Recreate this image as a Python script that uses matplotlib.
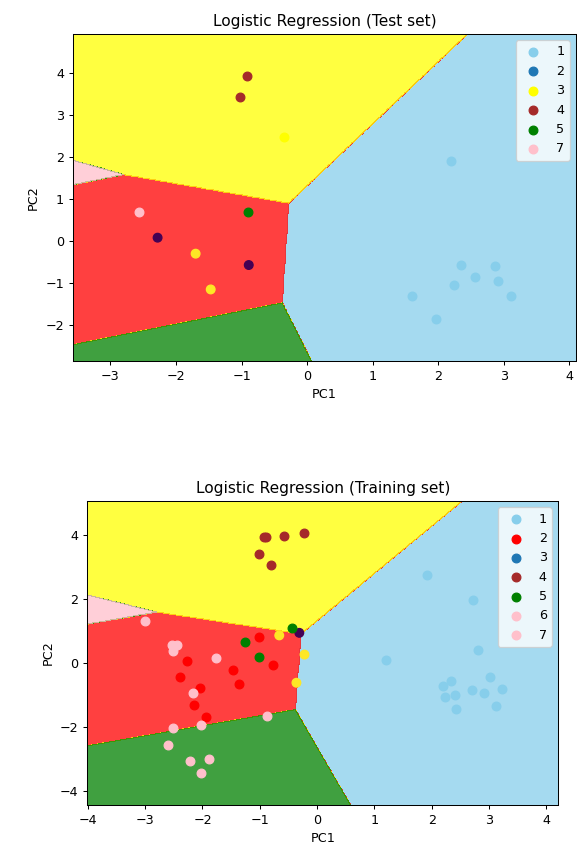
import matplotlib
matplotlib.use('Agg')
import matplotlib.pyplot as plt
import numpy as np
from matplotlib.colors import ListedColormap

# decision regions: linear scores a*PC1 + b*PC2 + c, the region takes the argmax
region_colors = ['skyblue', 'red', 'yellow', 'green', 'pink']
region_a = [1.86, 0.0, 0.27, 0.192, -0.070]
region_b = [-0.078, 0.0, 1.0, -0.616, 0.227]
region_c = [0.591, 0.0, -0.824, -0.832, -0.554]

purple = '#440154'
gold = '#fde725'

# test set, one entry per class
test_labels = ['1', '2', '3', '4', '5', '7']
test_legend_colors = ['skyblue', '#1f77b4', 'yellow', 'brown', 'green', 'pink']
test_x = [
    [2.20, 2.34, 2.86, 2.56, 2.91, 2.24, 1.60, 3.11, 1.96],
    [-2.28, -1.70, -0.89, -1.47],
    [-0.35],
    [-0.92, -1.02],
    [-0.90],
    [-2.57],
]
test_y = [
    [1.90, -0.57, -0.60, -0.85, -0.96, -1.05, -1.31, -1.31, -1.85],
    [0.08, -0.30, -0.57, -1.15],
    [2.47],
    [3.93, 3.43],
    [0.69],
    [0.69],
]
test_point_colors = [None, [purple, gold, purple, gold], None, None, None, None]

# training set
train_labels = ['1', '2', '3', '4', '5', '6', '7']
train_legend_colors = ['skyblue', 'red', '#1f77b4', 'brown', 'green', 'pink', 'pink']
train_x = [
    [1.91, 2.72, 2.80, 1.20, 3.02, 2.33, 2.19, 3.22, 2.70, 2.92, 2.23, 2.41, 3.12, 2.43],
    [-1.01, -2.27, -0.77, -1.46, -2.40, -1.36, -2.05, -2.15, -1.94],
    [-0.31, -0.66, -0.22, -0.36],
    [-0.93, -0.90, -0.57, -0.23, -1.01, -0.81],
    [-0.44, -1.26, -1.01],
    [-3.01, -2.53, -2.44, -2.52, -1.77, -2.17],
    [-0.87, -2.52, -2.02, -2.61, -2.22, -1.88, -2.02],
]
train_y = [
    [2.75, 1.96, 0.40, 0.09, -0.44, -0.56, -0.74, -0.82, -0.86, -0.96, -1.08, -1.00, -1.35, -1.44],
    [0.79, 0.05, -0.08, -0.22, -0.44, -0.66, -0.78, -1.31, -1.70],
    [0.93, 0.85, 0.25, -0.63],
    [3.92, 3.91, 3.96, 4.06, 3.40, 3.04],
    [1.08, 0.63, 0.18],
    [1.30, 0.55, 0.55, 0.35, 0.13, -0.96],
    [-1.66, -2.05, -1.96, -2.57, -3.06, -3.01, -3.45],
]
train_point_colors = [None, None, [purple, gold, gold, gold], None, None, None, None]


def plot_set(ax, xs, ys, labels, legend_colors, point_colors, title):
    all_x = np.concatenate([np.array(v) for v in xs])
    all_y = np.concatenate([np.array(v) for v in ys])
    X1, X2 = np.meshgrid(np.arange(all_x.min() - 1, all_x.max() + 1, 0.01),
                         np.arange(all_y.min() - 1, all_y.max() + 1, 0.01))
    scores = np.array([a * X1 + b * X2 + c for a, b, c in zip(region_a, region_b, region_c)])
    Z = scores.argmax(axis=0)
    ax.contourf(X1, X2, Z, levels=np.arange(-0.5, len(region_colors)), alpha=0.75,
                cmap=ListedColormap(region_colors))
    ax.set_xlim(X1.min(), X1.max())
    ax.set_ylim(X2.min(), X2.max())
    for i in range(len(labels)):
        c = point_colors[i] if point_colors[i] is not None else legend_colors[i]
        ax.scatter(xs[i], ys[i], c=c, s=46, label=labels[i])
    ax.set_title(title)
    ax.set_xlabel('PC1')
    ax.set_ylabel('PC2')
    leg = ax.legend(loc='upper right')
    for h, col in zip(leg.legend_handles, legend_colors):
        h.set_facecolor(col)
        h.set_edgecolor(col)


fig = plt.figure(figsize=(577 / 92, 847 / 92), dpi=92)
ax1 = fig.add_axes([0.1265, 0.5738, 0.8718, 0.3861])
ax2 = fig.add_axes([0.1513, 0.0496, 0.8163, 0.3589])

plot_set(ax1, test_x, test_y, test_labels, test_legend_colors, test_point_colors,
         'Logistic Regression (Test set)')
plot_set(ax2, train_x, train_y, train_labels, train_legend_colors, train_point_colors,
         'Logistic Regression (Training set)')

fig.savefig('out.png', dpi=92)
